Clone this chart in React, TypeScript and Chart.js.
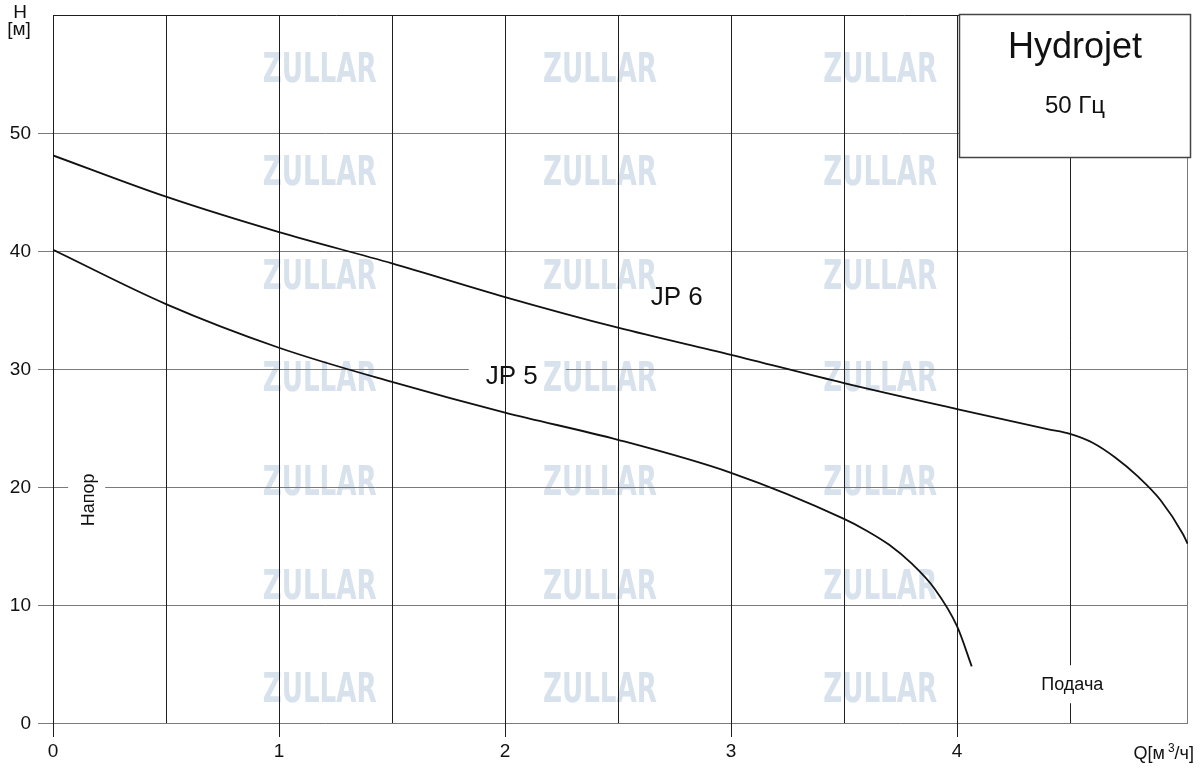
import React, { useEffect, useRef } from "react";
import { Chart, registerables } from "chart.js";

Chart.register(...registerables);

// ---- data ----
const jp6Q = [0, 0.5, 1, 1.5, 2, 2.5, 3, 3.5, 4, 4.4, 4.5, 4.6, 4.7, 4.8, 4.9, 5.0, 5.02];
const jp6H = [48.1, 44.6, 41.6, 38.95, 36.1, 33.5, 31.2, 28.8, 26.6, 24.9, 24.5, 23.75, 22.5, 20.9, 18.9, 16.0, 15.2];
const jp5Q = [0, 0.5, 1, 1.5, 2, 2.5, 3, 3.5, 3.6, 3.7, 3.8, 3.9, 4.0, 4.065];
const jp5H = [40.1, 35.5, 31.8, 28.9, 26.3, 24.0, 21.2, 17.3, 16.3, 15.1, 13.5, 11.4, 8.2, 4.8];

const xTickValues = [0, 1, 2, 3, 4];
const xGridValues = [0, 0.5, 1, 1.5, 2, 2.5, 3, 3.5, 4, 4.5];
const yTickValues = [0, 10, 20, 30, 40, 50];
const xMax = 5.022;
const yMax = 60;

const seriesNames = ["JP 6", "JP 5"];
const seriesLabelQ = [2.76, 2.03];
const seriesLabelH = [36.0, 29.3];

const titleText = "Hydrojet";
const subtitleText = "50 Гц";
const yAxisUnit = ["H", "[м]"];
const yAxisName = "Напор";
const xAxisName = "Подача";
const xAxisUnitParts = ["Q[м", "3", "/ч]"];

const watermarkText = "ZULLAR";
const watermarkQ = [1.18, 2.42, 3.66];
const watermarkH = [55.3, 46.6, 37.8, 29.1, 20.3, 11.5, 2.8];

const FONT = '"Liberation Sans", Arial, Helvetica, sans-serif';

const toPoints = (xs: number[], ys: number[]) => xs.map((x, i) => ({ x, y: ys[i] }));

const decorPlugin = {
  id: "decor",
  beforeDraw(chart: any) {
    const { ctx, width, height } = chart;
    const xs = chart.scales.x;
    const ys = chart.scales.y;
    ctx.save();
    ctx.fillStyle = "#ffffff";
    ctx.fillRect(0, 0, width, height);
    // watermarks
    ctx.fillStyle = "rgb(216,226,237)";
    ctx.font = `bold 41px "DejaVu Sans Condensed", "DejaVu Sans", sans-serif`;
    ctx.textAlign = "center";
    ctx.textBaseline = "middle";
    const mw = ctx.measureText(watermarkText).width;
    const sx = 114 / mw;
    for (const q of watermarkQ) {
      for (const h of watermarkH) {
        const px = xs.getPixelForValue(q);
        const py = ys.getPixelForValue(h);
        ctx.save();
        ctx.translate(px, py);
        ctx.scale(sx, 1);
        ctx.fillText(watermarkText, 0, 1);
        ctx.restore();
      }
    }
    ctx.restore();
  },
  beforeDatasetsDraw(chart: any) {
    const { ctx, chartArea } = chart;
    const xs = chart.scales.x;
    const ys = chart.scales.y;
    const L = chartArea.left;
    const R = chartArea.right;
    const T = chartArea.top;
    const B = chartArea.bottom;
    ctx.save();
    ctx.lineWidth = 1;

    const crisp = (v: number) => Math.round(v) + 0.5;

    ctx.font = `26px ${FONT}`;
    const jp5x = xs.getPixelForValue(seriesLabelQ[1]);
    const jp5w = ctx.measureText(seriesNames[1]).width;
    const napX = xs.getPixelForValue(0.16);
    const podY = ys.getPixelForValue(3.2);

    const hLine = (val: number, gaps: number[][]) => {
      const y = crisp(ys.getPixelForValue(val));
      let segs: number[][] = [[L - 15, R]];
      for (const g of gaps) {
        const n: number[][] = [];
        for (const s of segs) {
          if (g[1] <= s[0] || g[0] >= s[1]) n.push(s);
          else {
            if (g[0] > s[0]) n.push([s[0], g[0]]);
            if (g[1] < s[1]) n.push([g[1], s[1]]);
          }
        }
        segs = n;
      }
      ctx.beginPath();
      for (const s of segs) {
        ctx.moveTo(s[0], y);
        ctx.lineTo(s[1], y);
      }
      ctx.stroke();
    };

    // horizontal grid (gray)
    ctx.strokeStyle = "#7a7a7a";
    for (const v of yTickValues) {
      const gaps: number[][] = [];
      if (v === 30) gaps.push([jp5x - jp5w / 2 - 17, jp5x + jp5w / 2 + 28]);
      if (v === 20) gaps.push([napX - 21, napX + 16]);
      hLine(v, gaps);
    }
    // right border
    ctx.beginPath();
    ctx.moveTo(crisp(R - 1), T);
    ctx.lineTo(crisp(R - 1), B);
    ctx.stroke();

    // vertical grid (dark)
    ctx.strokeStyle = "#1e1e1e";
    for (const v of xGridValues) {
      const x = crisp(xs.getPixelForValue(v));
      const isInt = Math.abs(v - Math.round(v)) < 1e-6;
      const bottom = isInt ? B + 14 : B;
      ctx.beginPath();
      if (v === 4.5) {
        ctx.moveTo(x, T);
        ctx.lineTo(x, podY - 20);
        ctx.moveTo(x, podY + 18);
        ctx.lineTo(x, bottom);
      } else {
        ctx.moveTo(x, T);
        ctx.lineTo(x, bottom);
      }
      ctx.stroke();
    }
    // top border
    ctx.beginPath();
    ctx.moveTo(L, crisp(T));
    ctx.lineTo(R, crisp(T));
    ctx.stroke();
    ctx.restore();
  },
  afterDatasetsDraw(chart: any) {
    const { ctx, chartArea } = chart;
    const xs = chart.scales.x;
    const ys = chart.scales.y;
    ctx.save();
    ctx.fillStyle = "#111";
    ctx.textBaseline = "middle";

    // y tick labels
    ctx.font = `19px ${FONT}`;
    ctx.textAlign = "right";
    for (const v of yTickValues) {
      ctx.fillText(String(v), 31, ys.getPixelForValue(v) + 1);
    }
    // x tick labels
    ctx.textAlign = "center";
    for (const v of xTickValues) {
      ctx.fillText(String(v), xs.getPixelForValue(v), chartArea.bottom + 29);
    }

    // y axis unit
    ctx.font = `19px ${FONT}`;
    ctx.fillText(yAxisUnit[0], 20, 13);
    ctx.fillText(yAxisUnit[1], 19, 30);

    // x axis unit Q[м3/ч]
    const big = `18px ${FONT}`;
    const small = `12px ${FONT}`;
    ctx.font = big;
    const w0 = ctx.measureText(xAxisUnitParts[0]).width;
    const w2 = ctx.measureText(xAxisUnitParts[2]).width;
    ctx.font = small;
    const w1 = ctx.measureText(xAxisUnitParts[1]).width;
    let qx = 1194 - (w0 + 3 + w1 + w2);
    const qy = chartArea.bottom + 31;
    ctx.textAlign = "left";
    ctx.font = big;
    ctx.fillText(xAxisUnitParts[0], qx, qy);
    qx += w0 + 3;
    ctx.font = small;
    ctx.fillText(xAxisUnitParts[1], qx, qy - 5);
    qx += w1;
    ctx.font = big;
    ctx.fillText(xAxisUnitParts[2], qx, qy);

    // axis names
    ctx.font = `18px ${FONT}`;
    ctx.textAlign = "center";
    ctx.save();
    ctx.translate(xs.getPixelForValue(0.16), ys.getPixelForValue(18.9));
    ctx.rotate(-Math.PI / 2);
    ctx.fillText(yAxisName, 0, 0);
    ctx.restore();
    ctx.fillText(xAxisName, xs.getPixelForValue(4.51), ys.getPixelForValue(3.2));

    // series labels
    ctx.font = `26px ${FONT}`;
    for (let i = 0; i < seriesNames.length; i++) {
      ctx.fillText(seriesNames[i], xs.getPixelForValue(seriesLabelQ[i]), ys.getPixelForValue(seriesLabelH[i]));
    }

    // title box
    ctx.fillStyle = "#ffffff";
    ctx.fillRect(959, 14, 232, 144);
    ctx.strokeStyle = "#444";
    ctx.lineWidth = 1.5;
    ctx.strokeRect(959.5, 14.5, 231, 143);
    ctx.fillStyle = "#111";
    ctx.font = `36px ${FONT}`;
    ctx.fillText(titleText, 1075, 48);
    ctx.font = `24px ${FONT}`;
    ctx.fillText(subtitleText, 1075, 106);
    ctx.restore();
  },
};

export default function App() {
  const canvasRef = useRef<HTMLCanvasElement | null>(null);

  useEffect(() => {
    if (!canvasRef.current) return;
    const chart = new Chart(canvasRef.current, {
      type: "scatter",
      data: {
        datasets: [
          {
            label: seriesNames[0],
            data: toPoints(jp6Q, jp6H),
            showLine: true,
            borderColor: "#111",
            borderWidth: 1.8,
            pointRadius: 0,
            cubicInterpolationMode: "monotone",
            fill: false,
          },
          {
            label: seriesNames[1],
            data: toPoints(jp5Q, jp5H),
            showLine: true,
            borderColor: "#111",
            borderWidth: 1.8,
            pointRadius: 0,
            cubicInterpolationMode: "monotone",
            fill: false,
          },
        ],
      },
      options: {
        animation: false,
        responsive: false,
        devicePixelRatio: 1,
        events: [],
        layout: { padding: { left: 53, top: 15, right: 12, bottom: 46 } },
        plugins: {
          legend: { display: false },
          tooltip: { enabled: false },
        },
        scales: {
          x: { type: "linear", display: false, min: 0, max: xMax },
          y: { type: "linear", display: false, min: 0, max: yMax },
        },
      },
      plugins: [decorPlugin],
    } as any);
    return () => chart.destroy();
  }, []);

  return (
    <div style={{ position: "absolute", left: 0, top: 0, width: 1200, height: 769, background: "#fff" }}>
      <canvas ref={canvasRef} width={1200} height={769} style={{ display: "block" }} />
    </div>
  );
}
